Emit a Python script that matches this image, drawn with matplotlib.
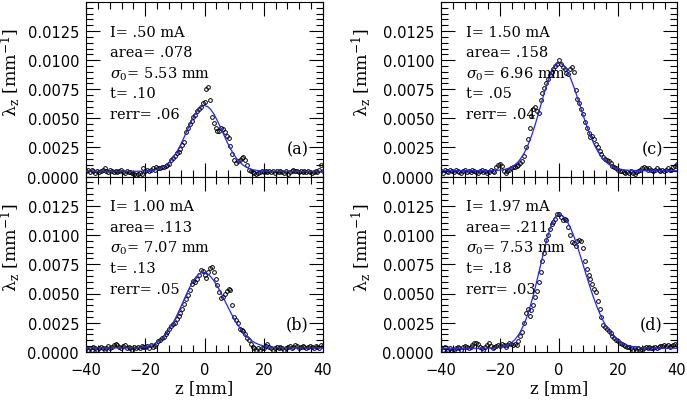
import numpy as np
import matplotlib
matplotlib.use("Agg")
import matplotlib.pyplot as plt
from matplotlib.ticker import MultipleLocator, FixedLocator, FormatStrFormatter

plt.rcParams["mathtext.fontset"] = "dejavuserif"

UNIT = 1e-4  # all lambda values below are in units of 1e-4 mm^-1

# sample positions of the measured points (mm)
Z_POINTS = np.linspace(-40, 40, 129)

# measured points, 8 per row (5 mm per row)
PTS_A = [5, 6, 4, 6, 5, 3, 5, 4,
         5, 6, 7, 5, 4, 6, 5, 4,
         5, 4, 5, 6, 4, 3, 5, 4,
         4, 3, 2, 1, 2, 3, 2, 7,
         5, 6, 5, 6, 7, 6, 8, 7,
         7, 8, 8, 9, 10, 11, 14, 16,
         18, 20, 21, 24, 27, 30, 38, 42,
         45, 48, 51, 53, 56, 58, 60, 63,
         64, 75, 77, 66, 51, 46, 42, 39,
         39, 42, 41, 38, 35, 33, 26, 19,
         14, 12, 13, 14, 16, 17, 14, 10,
         6, 5, 4, 3, 2, 3, 4, 5,
         4, 5, 4, 5, 4, 5, 3, 5,
         4, 5, 4, 3, 5, 2, 4, 5,
         6, 5, 5, 4, 5, 4, 5, 4,
         5, 4, 3, 4, 5, 4, 6, 10,
         5]

PTS_B = [3, 2, 3, 2, 4, 3, 2, 3,
         4, 3, 2, 3, 5, 3, 4, 6,
         7, 6, 4, 3, 5, 6, 3, 4,
         3, 2, 4, 3, 4, 3, 5, 4,
         4, 5, 3, 6, 4, 5, 7, 9,
         10, 12, 13, 15, 17, 20, 22, 24,
         25, 28, 31, 33, 37, 41, 45, 49,
         53, 58, 61, 60, 62, 66, 70, 69,
         66, 63, 68, 72, 73, 68, 62, 57,
         51, 46, 47, 50, 52, 54, 53, 40,
         30, 27, 25, 20, 19, 18, 15, 12,
         10, 7, 4, 3, 2, 3, 2, 3,
         3, 5, 7, 4, 3, 2, 3, 4,
         3, 4, 3, 2, 3, 4, 5, 3,
         4, 6, 5, 3, 4, 5, 4, 3,
         4, 5, 4, 3, 5, 4, 3, 6,
         5]

PTS_C = [5, 3, 6, 5, 4, 6, 5, 4,
         6, 5, 4, 3, 5, 6, 4, 5,
         4, 6, 5, 4, 3, 5, 6, 4,
         5, 3, 4, 6, 5, 4, 8, 10,
         11, 9, 5, 3, 5, 6, 7, 8,
         8, 9, 10, 12, 13, 18, 25, 32,
         42, 52, 58, 60, 56, 55, 66, 72,
         76, 80, 84, 87, 90, 92, 95, 97,
         100, 97, 94, 92, 89, 88, 92, 94,
         90, 74, 67, 63, 58, 54, 47, 42,
         37, 34, 35, 32, 28, 25, 22, 19,
         17, 15, 14, 13, 12, 9, 8, 7,
         6, 5, 5, 4, 3, 4, 3, 5,
         3, 2, 4, 5, 6, 7, 8, 7,
         6, 7, 6, 5, 6, 7, 6, 5,
         6, 5, 6, 7, 6, 6, 8, 9,
         11]

PTS_D = [3, 2, 4, 1, 2, 3, 1, 2,
         3, 4, 3, 2, 4, 5, 4, 3,
         4, 6, 8, 8, 7, 4, 3, 2,
         4, 6, 8, 5, 3, 4, 5, 6,
         5, 7, 6, 4, 6, 8, 7, 6,
         7, 6, 9, 14, 17, 25, 33, 37,
         31, 36, 40, 47, 52, 60, 68, 78,
         85, 96, 100, 105, 109, 111, 114, 118,
         118, 115, 113, 114, 113, 107, 100, 94,
         93, 91, 95, 96, 95, 89, 78, 71,
         66, 62, 58, 54, 51, 44, 37, 30,
         23, 21, 20, 18, 16, 14, 12, 10,
         9, 8, 7, 6, 5, 4, 4, 3,
         2, 3, 2, 3, 2, 2, 3, 4,
         3, 4, 3, 3, 4, 3, 4, 5,
         5, 6, 5, 6, 4, 5, 6, 7,
         6]

# fitted curves
CURVE_Z = [-40, -30, -26] + list(range(-24, 25)) + [26, 28, 30, 34, 40]

FIT_A = [4.5, 4.5, 4.5,
         4.5, 4.5, 4.55, 4.6, 4.7, 4.9, 5.1, 5.5, 6.1, 7.0, 8.2, 9.9, 12.1,
         15.0, 18.6, 22.8, 27.7, 33.1, 38.8, 44.4, 49.7, 54.4, 57.9, 60.2,
         61.0,
         60.2, 57.9, 54.4, 49.7, 44.4, 38.8, 33.1, 27.7, 22.8, 18.6, 15.0,
         12.1, 9.9, 8.2, 7.0, 6.1, 5.5, 5.1, 4.9, 4.7, 4.6, 4.55, 4.5, 4.5,
         4.5, 4.5, 4.5, 4.5, 4.5]

FIT_B = [3.5, 3.5, 3.6,
         3.7, 3.8, 3.9, 4.2, 4.6, 5.1, 5.9, 6.9, 8.3, 10.1, 12.5, 15.4, 18.9,
         23.1, 27.8, 33.0, 38.6, 44.3, 50.0, 55.3, 60.0, 63.8, 66.5, 67.8,
         67.9,
         66.8, 64.6, 61.5, 57.6, 53.2, 48.3, 43.1, 38.0, 33.0, 28.3, 24.0,
         20.2, 16.8, 14.0, 11.6, 9.6, 8.0, 6.8, 5.9, 5.2, 4.7, 4.3, 4.0, 3.9,
         3.7, 3.6, 3.5, 3.5, 3.5]

FIT_C = [5.0, 5.0, 5.0,
         5.0, 5.1, 5.2, 5.3, 5.5, 5.8, 6.4, 7.2, 8.3, 10.0, 12.2, 15.3, 19.2,
         24.2, 30.2, 37.3, 45.2, 53.9, 62.9, 71.8, 80.1, 87.3, 92.8, 96.3,
         97.5,
         96.6, 93.9, 89.6, 83.9, 77.2, 69.7, 61.9, 54.0, 46.4, 39.3, 32.8,
         27.2, 22.3, 18.2, 14.9, 12.3, 10.3, 8.7, 7.6, 6.7, 6.2, 5.8, 5.5, 5.3,
         5.1, 5.0, 5.0, 5.0, 5.0]

FIT_D = [3.2, 3.2, 3.2,
         3.3, 3.4, 3.5, 3.7, 4.1, 4.6, 5.4, 6.6, 8.2, 10.5, 13.7, 17.8, 22.9,
         29.3, 37.0, 45.8, 55.6, 66.2, 77.0, 87.6, 97.4, 105.8, 112.2, 116.3,
         117.7,
         116.9, 114.5, 110.6, 105.4, 99.2, 91.9, 84.1, 76.0, 67.7, 59.6, 51.8,
         44.5, 37.8, 31.8, 26.4, 21.9, 18.0, 14.7, 12.1, 9.9, 8.2, 6.9, 5.9, 5.1,
         4.2, 3.7, 3.4, 3.2, 3.2]

PANEL_TAGS = ["(a)", "(b)", "(c)", "(d)"]
CURRENTS = ["I= .50 mA", "I= 1.00 mA", "I= 1.50 mA", "I= 1.97 mA"]
AREAS = ["area= .078", "area= .113", "area= .158", "area= .211"]
SIGMAS = [r"$\sigma_0$= 5.53 mm", r"$\sigma_0$= 7.07 mm",
          r"$\sigma_0$= 6.96 mm", r"$\sigma_0$= 7.53 mm"]
TS = ["t= .10", "t= .13", "t= .05", "t= .18"]
RERRS = ["rerr= .06", "rerr= .05", "rerr= .04", "rerr= .03"]

Y_TICKS = [0.0, 0.0025, 0.0050, 0.0075, 0.0100, 0.0125]
X_TICKS = [-40, -20, 0, 20, 40]

W, H = 687, 402
fig = plt.figure(figsize=(W / 100, H / 100), dpi=100)


def rect(x0, y0, x1, y1):
    return [x0 / W, 1 - y1 / H, (x1 - x0) / W, (y1 - y0) / H]


RECTS = [rect(86, 3, 323, 177.5), rect(86, 177.5, 323, 353),
         rect(441, 3, 677, 177.5), rect(441, 177.5, 677, 353)]
POINTS = [PTS_A, PTS_B, PTS_C, PTS_D]
FITS = [FIT_A, FIT_B, FIT_C, FIT_D]
SERIF = "DejaVu Serif"

for i in range(4):
    ax = fig.add_axes(RECTS[i])
    ax.plot(Z_POINTS, np.array(POINTS[i]) * UNIT, linestyle="none",
            marker="o", ms=2.7, mfc="none", mec="black", mew=0.7, zorder=2)
    ax.plot(CURVE_Z, np.array(FITS[i]) * UNIT, color="#2424ff", lw=0.9,
            zorder=3)
    ax.set_xlim(-40, 40)
    ax.set_ylim(0, 0.015)
    ax.xaxis.set_major_locator(FixedLocator(X_TICKS))
    ax.xaxis.set_minor_locator(MultipleLocator(4))
    ax.yaxis.set_major_locator(FixedLocator(Y_TICKS))
    ax.yaxis.set_minor_locator(MultipleLocator(0.0005))
    ax.yaxis.set_major_formatter(FormatStrFormatter("%.4f"))
    ax.tick_params(which="both", direction="in", top=True, right=True,
                   width=0.8, colors="black")
    ax.tick_params(which="major", length=10, labelsize=10.5)
    ax.tick_params(which="minor", length=5)
    ax.tick_params(axis="y", pad=5)
    ax.tick_params(axis="x", pad=7)
    for sp in ax.spines.values():
        sp.set_linewidth(0.8)
    bottom_row = i in (1, 3)
    if not bottom_row:
        ax.tick_params(labelbottom=False)
    else:
        ax.set_xlabel("z [mm]", fontsize=12, family=SERIF, labelpad=2)
    ax.set_ylabel("λ$_{\\mathrm{z}}$ [mm$^{-1}$]", fontsize=12.5, family=SERIF)
    ax.yaxis.set_label_coords(-0.268 if i < 2 else -0.287, 0.6)

    lines = [CURRENTS[i], AREAS[i], SIGMAS[i], TS[i], RERRS[i]]
    x_text = 0.101 if i < 2 else 0.105
    for j, s in enumerate(lines):
        ax.text(x_text, 0.83 - 0.118 * j, s, transform=ax.transAxes,
                fontsize=10.5, family=SERIF, va="center", ha="left")
    ax.text(0.94, 0.158, PANEL_TAGS[i], transform=ax.transAxes,
            fontsize=11.5, family=SERIF, va="center", ha="right")

fig.savefig("out.png", dpi=100)
